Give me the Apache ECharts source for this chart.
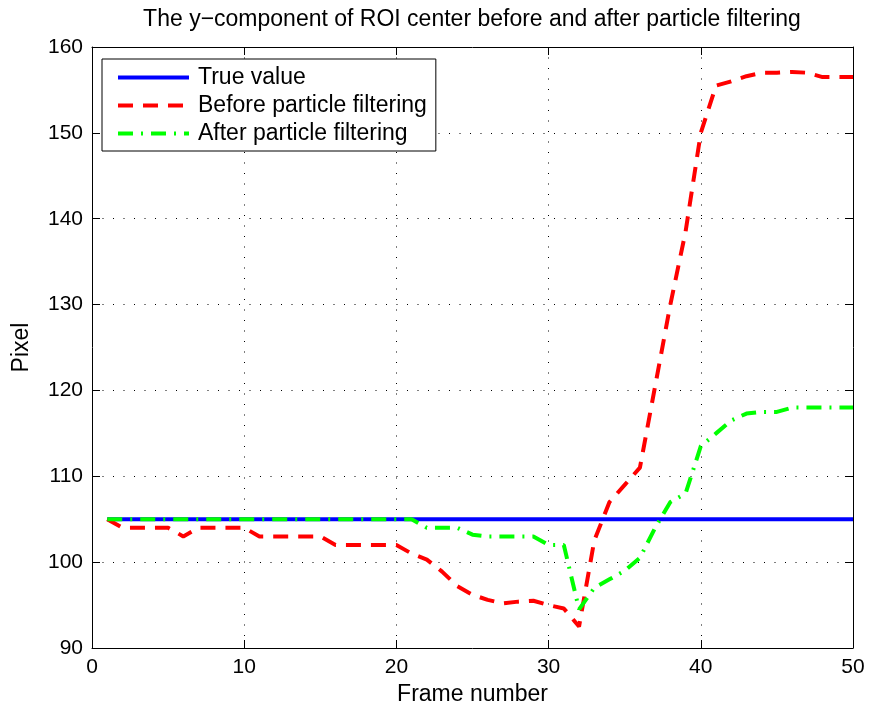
<!DOCTYPE html>
<html>
<head>
<meta charset="utf-8">
<script src="https://cdn.jsdelivr.net/npm/echarts@6/dist/echarts.min.js"></script>
<style>
  html, body { margin: 0; padding: 0; background: #fff; }
  #main { width: 872px; height: 713px; }
</style>
</head>
<body>
<div id="main"></div>
<script>
// frame numbers 1..50
var frames = [1,2,3,4,5,6,7,8,9,10,11,12,13,14,15,16,17,18,19,20,21,22,23,24,25,
  26,27,28,29,30,31,32,33,34,35,36,37,38,39,40,41,42,43,44,45,46,47,48,49,50];

var trueValue = [105,105,105,105,105,105,105,105,105,105,105,105,105,105,105,105,105,105,105,105,
  105,105,105,105,105,105,105,105,105,105,105,105,105,105,105,105,105,105,105,105,
  105,105,105,105,105,105,105,105,105,105];

var beforePF = [105,104,104,104,104,103,104,104,104,104,103,103,103,103,103,102,102,102,102,102,
  101,100.3,98.9,97.2,96.2,95.6,95.2,95.4,95.5,95,94.6,92.5,102.5,107,109,111,120.5,130,138.5,150,
  155.5,156,156.6,157,157,157.1,157,156.5,156.5,156.5];

var afterPF = [105,105,105,105,105,105,105,105,105,105,105,105,105,105,105,105,105,105,105,105,
  105,104,104,104,103.2,103,103,103,103,102,102,94.5,97,98,99,100.5,104,107,108,113.5,
  115,116.5,117.3,117.5,117.5,118,118,118,118,118];

var font = '"Liberation Sans", Arial, Helvetica, sans-serif';

function pairs(ys) {
  return frames.map(function (f, i) { return [f, ys[i]]; });
}

var chart = echarts.init(document.getElementById('main'), null, { renderer: 'canvas' });

var baseAxis = {
  type: 'value',
  axisLine: { show: true, onZero: false, lineStyle: { color: '#000', width: 1 } },
  axisTick: { show: true, inside: true, length: 8, lineStyle: { color: '#000' } },
  splitLine: { show: false }
};

var option = {
  backgroundColor: '#fff',
  animation: false,
  textStyle: { fontFamily: font },
  title: {
    text: 'The y\u2212component of ROI center before and after particle filtering',
    left: 467,
    textAlign: 'center',
    top: 3,
    textStyle: { fontFamily: font, fontSize: 23, fontWeight: 'normal', color: '#000' }
  },
  legend: {
    orient: 'vertical',
    left: 102,
    top: 59,
    padding: [7, 9, 6, 14],
    itemGap: 5,
    itemWidth: 71,
    itemHeight: 14,
    borderColor: '#000',
    borderWidth: 1,
    borderRadius: 0,
    backgroundColor: '#fff',
    itemStyle: { opacity: 0 },
    lineStyle: { width: 4 },
    textStyle: { fontFamily: font, fontSize: 23, color: '#000', padding: [0, 0, 0, 4] },
    data: ['True value', 'Before particle filtering', 'After particle filtering']
  },
  grid: { left: 92, top: 47, width: 761, height: 601, containLabel: false },
  xAxis: [
    Object.assign({}, baseAxis, {
      min: 0, max: 50, interval: 10,
      position: 'bottom',
      name: 'Frame number',
      nameLocation: 'middle',
      nameGap: 32,
      nameTextStyle: { fontFamily: font, fontSize: 23, color: '#000' },
      axisLabel: { color: '#000', fontFamily: font, fontSize: 21, margin: 9 },
      splitLine: { show: true, lineStyle: { color: '#000', width: 1, type: [1, 9.5] } }
    }),
    Object.assign({}, baseAxis, {
      min: 0, max: 50, interval: 10,
      position: 'top',
      axisLabel: { show: false }
    })
  ],
  yAxis: [
    Object.assign({}, baseAxis, {
      min: 90, max: 160, interval: 10,
      position: 'left',
      name: 'Pixel',
      nameLocation: 'middle',
      nameGap: 59,
      nameTextStyle: { fontFamily: font, fontSize: 23, color: '#000' },
      axisLabel: { color: '#000', fontFamily: font, fontSize: 21, margin: 9 },
      splitLine: { show: true, lineStyle: { color: '#000', width: 1, type: [1, 9.5] } }
    }),
    Object.assign({}, baseAxis, {
      min: 90, max: 160, interval: 10,
      position: 'right',
      axisLabel: { show: false }
    })
  ],
  series: [
    {
      name: 'True value',
      type: 'line',
      symbol: 'none',
      color: '#0000ff',
      lineStyle: { color: '#0000ff', width: 4, type: 'solid' },
      data: pairs(trueValue),
      z: 3
    },
    {
      name: 'Before particle filtering',
      type: 'line',
      symbol: 'none',
      color: '#ff0000',
      lineStyle: { color: '#ff0000', width: 4, type: [15, 10] },
      data: pairs(beforePF),
      z: 4
    },
    {
      name: 'After particle filtering',
      type: 'line',
      symbol: 'none',
      color: '#00ff00',
      lineStyle: { color: '#00ff00', width: 4, type: [15, 8, 2, 8] },
      data: pairs(afterPF),
      z: 5
    }
  ]
};

chart.setOption(option);
</script>
</body>
</html>
